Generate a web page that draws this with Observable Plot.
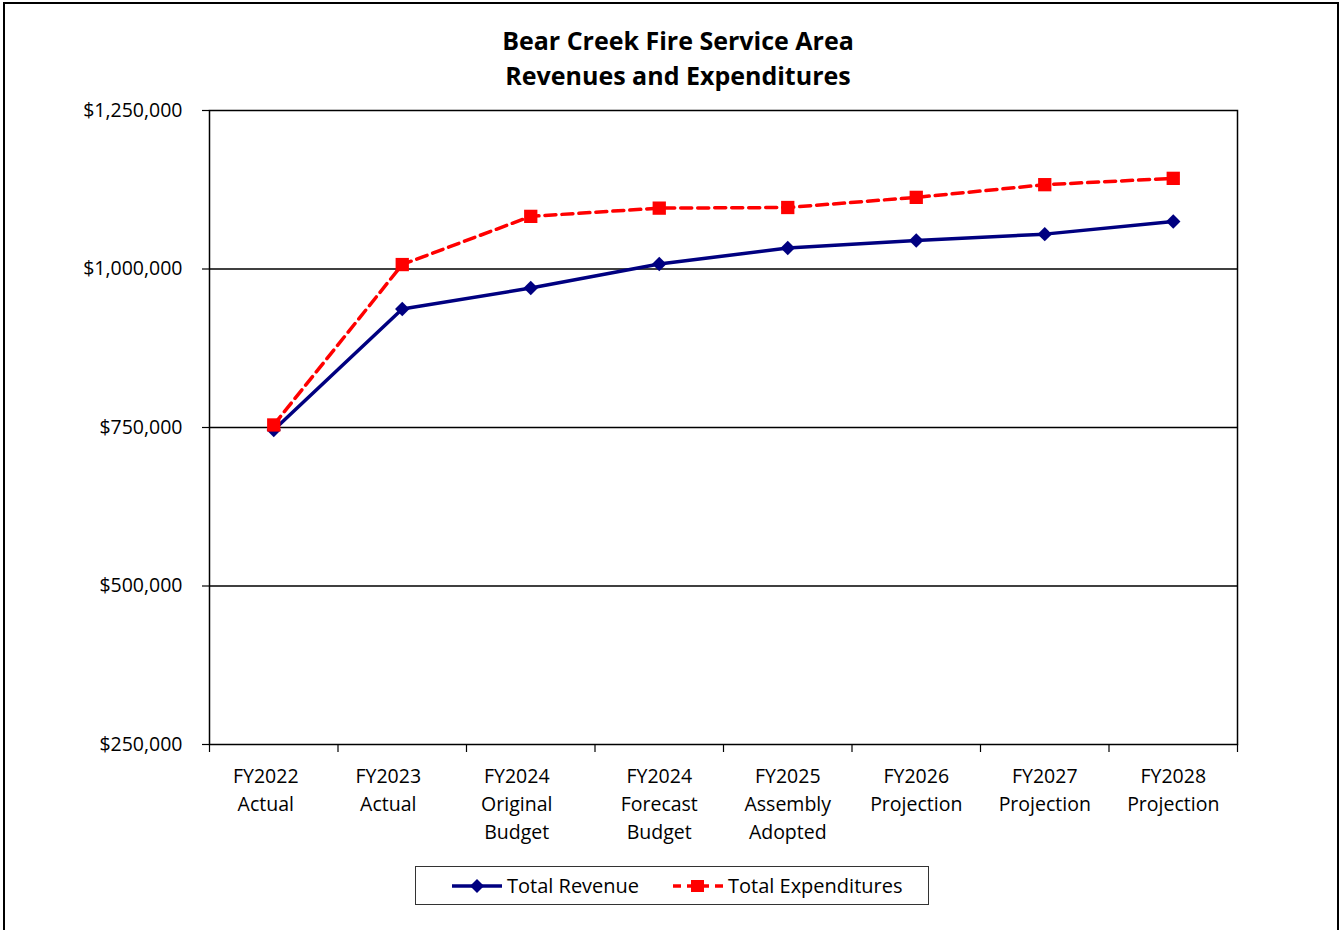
<!DOCTYPE html>
<html>
<head>
<meta charset="utf-8">
<script src="https://cdn.jsdelivr.net/npm/d3@7"></script>
<script src="https://cdn.jsdelivr.net/npm/@observablehq/plot@0.6"></script>
<style>
  html, body { margin: 0; padding: 0; background: #fff; overflow: hidden; }
  #wrap { position: relative; width: 1340px; height: 930px; font-family: "Open Sans", "Noto Sans", sans-serif; }
  #border { position: absolute; left: 3px; top: 2px; width: 1336px; height: 1000px; border: 2px solid #000; box-sizing: border-box; }
  #title { position: absolute; left: 178px; width: 1000px; top: 23px; text-align: center; font-weight: bold; font-size: 25px; line-height: 35px; color: #000; }
  #chart { position: absolute; left: 0; top: 0; }
  #legend { position: absolute; left: 415px; top: 866px; width: 514px; height: 39px; border: 1px solid #333; box-sizing: border-box; font-size: 20px; color: #000; }
  .li { position: absolute; top: 0; height: 37px; display: flex; align-items: center; }
  .li svg { margin-right: 4px; }
</style>
</head>
<body>
<div id="wrap">
  <div id="border"></div>
  <div id="chart"></div>
  <div id="title">Bear Creek Fire Service Area<br>Revenues and Expenditures</div>
  <div id="legend"></div>
</div>
<script>
const categories = ["FY2022\nActual", "FY2023\nActual", "FY2024\nOriginal\nBudget", "FY2024\nForecast\nBudget", "FY2025\nAssembly\nAdopted", "FY2026\nProjection", "FY2027\nProjection", "FY2028\nProjection"];
const totalRevenue = [746000, 937000, 970000, 1008000, 1033000, 1045000, 1055000, 1075000];
const totalExpenditures = [754000, 1007000, 1083000, 1096000, 1097000, 1113000, 1133000, 1143000];
const yTicks = [250000, 500000, 750000, 1000000, 1250000];
const gridValues = [500000, 750000, 1000000];
const seriesNames = ["Total Revenue", "Total Expenditures"];
const seriesColors = ["#000080", "#FF0000"];
// label nudges (px) as placed in the original chart
const labelShift = [-8, -14, -14, 0, 0, 0, 0, 0];

const rows = categories.map((c, i) => ({i, cat: c, revenue: totalRevenue[i], expenditures: totalExpenditures[i]}));
const xPos = d => d.i + 0.5;
const fmt = d3.format("$,.0f");

const labelAxes = d3.groups(d3.range(categories.length), i => labelShift[i]).map(([dx, idx]) =>
  Plot.axisX({ticks: idx.map(i => i + 0.5), tickFormat: d => categories[Math.floor(d)], tickSize: 0, tickPadding: 18, lineHeight: 1.45, fontSize: 19.5, dx})
);

const chart = Plot.plot({
  width: 1340,
  height: 930,
  marginLeft: 209,
  marginRight: 103,
  marginTop: 110,
  marginBottom: 186,
  style: {fontFamily: "'Open Sans', 'Noto Sans', sans-serif", fontSize: "19.5px", color: "#000", background: "transparent"},
  x: {type: "linear", domain: [0, categories.length]},
  y: {type: "linear", domain: [yTicks[0], yTicks[yTicks.length - 1]]},
  marks: [
    Plot.ruleY(gridValues, {stroke: "#000", strokeWidth: 1.5}),
    Plot.frame({stroke: "#000", strokeWidth: 1.5}),
    Plot.axisY({ticks: yTicks, tickFormat: fmt, tickSize: 7, tickPadding: 20, fontSize: 19.5, stroke: "#000", strokeWidth: 1.2}),
    Plot.axisX({ticks: d3.range(categories.length + 1), tickFormat: () => "", tickSize: 8, stroke: "#000", strokeWidth: 1.2}),
    ...labelAxes,
    Plot.line(rows, {x: xPos, y: "revenue", stroke: seriesColors[0], strokeWidth: 3.5}),
    Plot.dot(rows, {x: xPos, y: "revenue", symbol: "diamond2", r: 6.5, fill: seriesColors[0], stroke: "none"}),
    Plot.line(rows, {x: xPos, y: "expenditures", stroke: seriesColors[1], strokeWidth: 3.5, strokeDasharray: "11,6"}),
    Plot.dot(rows, {x: xPos, y: "expenditures", symbol: "square", r: 7.5, fill: seriesColors[1], stroke: "none"})
  ]
});
document.getElementById("chart").appendChild(chart);

// Legend
const legend = document.getElementById("legend");
const items = [
  {left: 35, name: seriesNames[0], color: seriesColors[0], dash: null, shape: "diamond"},
  {left: 256, name: seriesNames[1], color: seriesColors[1], dash: "8,6", shape: "square"}
];
items.forEach(it => {
  const div = document.createElement("div");
  div.className = "li";
  div.style.left = it.left + "px";
  const svg = d3.create("svg").attr("width", 52).attr("height", 20);
  svg.append("line").attr("x1", 1).attr("x2", 51).attr("y1", 10).attr("y2", 10)
    .attr("stroke", it.color).attr("stroke-width", 3.5).attr("stroke-dasharray", it.dash);
  if (it.shape === "diamond") {
    svg.append("path").attr("d", "M26,3 L33,10 L26,17 L19,10 Z").attr("fill", it.color);
  } else {
    svg.append("rect").attr("x", 19).attr("y", 4).attr("width", 13).attr("height", 12).attr("fill", it.color);
  }
  div.appendChild(svg.node());
  const span = document.createElement("span");
  span.textContent = it.name;
  div.appendChild(span);
  legend.appendChild(div);
});
</script>
</body>
</html>
